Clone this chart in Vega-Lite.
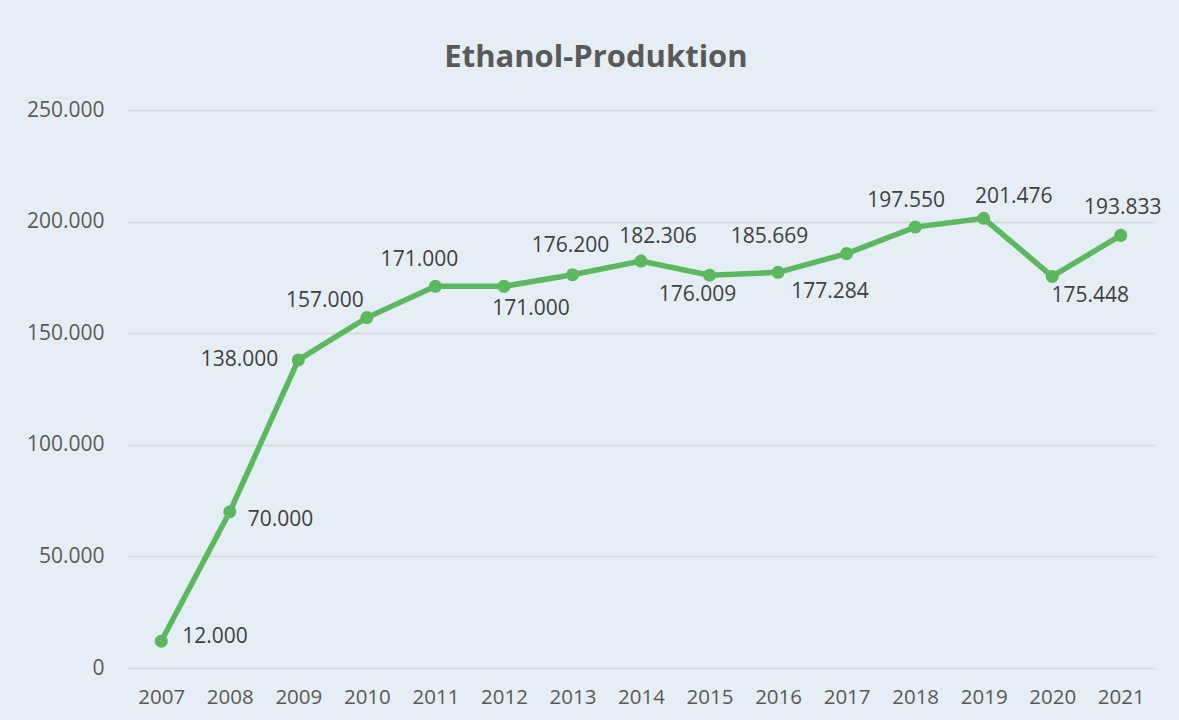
{
  "$schema": "https://vega.github.io/schema/vega-lite/v6.json",
  "width": 1028,
  "height": 558,
  "autosize": {"type": "none"},
  "padding": {"left": 127, "top": 110, "right": 24, "bottom": 52},
  "background": "#e5eef4",
  "config": {
    "locale": {"number": {"decimal": ",", "thousands": ".", "grouping": [3], "currency": ["", " €"]}},
    "view": {"stroke": null},
    "font": "Open Sans",
    "text": {"font": "Open Sans", "fontSize": 21, "color": "#404040", "align": "center", "baseline": "middle"}
  },
  "title": {
    "text": "Ethanol-Produktion",
    "fontSize": 31,
    "fontWeight": "bold",
    "color": "#595959",
    "font": "Open Sans",
    "anchor": "middle",
    "frame": "group",
    "dx": -45,
    "offset": 25
  },
  "data": {
    "values": [
      {"Jahr": "2007", "Wert": 12000},
      {"Jahr": "2008", "Wert": 70000},
      {"Jahr": "2009", "Wert": 138000},
      {"Jahr": "2010", "Wert": 157000},
      {"Jahr": "2011", "Wert": 171000},
      {"Jahr": "2012", "Wert": 171000},
      {"Jahr": "2013", "Wert": 176200},
      {"Jahr": "2014", "Wert": 182306},
      {"Jahr": "2015", "Wert": 176009},
      {"Jahr": "2016", "Wert": 177284},
      {"Jahr": "2017", "Wert": 185669},
      {"Jahr": "2018", "Wert": 197550},
      {"Jahr": "2019", "Wert": 201476},
      {"Jahr": "2020", "Wert": 175448},
      {"Jahr": "2021", "Wert": 193833}
    ]
  },
  "encoding": {
    "x": {
      "field": "Jahr", "type": "ordinal",
      "scale": {"paddingInner": 0, "paddingOuter": 0},
      "axis": {
        "title": null, "labelAngle": 0, "ticks": false,
        "domainColor": "#d9d9d9", "domainWidth": 1.5,
        "labelFontSize": 20.5, "labelColor": "#595959", "labelPadding": 19, "labelFont": "Open Sans"
      }
    },
    "y": {
      "field": "Wert", "type": "quantitative",
      "scale": {"domain": [0, 250000], "nice": false},
      "axis": {
        "title": null, "values": [0, 50000, 100000, 150000, 200000, 250000],
        "format": ",d", "ticks": false, "domain": false,
        "gridColor": "#d9d9d9", "gridWidth": 1.5,
        "labelFontSize": 21, "labelColor": "#595959", "labelPadding": 23, "labelFont": "Open Sans"
      }
    },
    "text": {"field": "Wert", "type": "quantitative", "format": ",d"}
  },
  "layer": [
    {"mark": {"type": "line", "color": "#5cb85f", "strokeWidth": 5.5}, "encoding": {"text": null}},
    {"mark": {"type": "point", "filled": true, "opacity": 1, "color": "#5cb85f", "size": 170}, "encoding": {"text": null}},
    {"transform": [{"filter": {"field": "Jahr", "equal": "2007"}}], "mark": {"type": "text", "align": "left", "dx": 21, "dy": -4}},
    {"transform": [{"filter": {"field": "Jahr", "equal": "2008"}}], "mark": {"type": "text", "align": "left", "dx": 18, "dy": 8}},
    {"transform": [{"filter": {"field": "Jahr", "equal": "2009"}}], "mark": {"type": "text", "align": "right", "dx": -20, "dy": 0}},
    {"transform": [{"filter": {"field": "Jahr", "equal": "2010"}}], "mark": {"type": "text", "dx": -42, "dy": -17}},
    {"transform": [{"filter": {"field": "Jahr", "equal": "2011"}}], "mark": {"type": "text", "dx": -16, "dy": -26}},
    {"transform": [{"filter": {"field": "Jahr", "equal": "2012"}}], "mark": {"type": "text", "dx": 27, "dy": 23}},
    {"transform": [{"filter": {"field": "Jahr", "equal": "2013"}}], "mark": {"type": "text", "dx": -2, "dy": -29}},
    {"transform": [{"filter": {"field": "Jahr", "equal": "2014"}}], "mark": {"type": "text", "dx": 17, "dy": -24}},
    {"transform": [{"filter": {"field": "Jahr", "equal": "2015"}}], "mark": {"type": "text", "dx": -12, "dy": 20}},
    {"transform": [{"filter": {"field": "Jahr", "equal": "2016"}}], "mark": {"type": "text", "dx": 52, "dy": 20}},
    {"transform": [{"filter": {"field": "Jahr", "equal": "2017"}}], "mark": {"type": "text", "dx": -77, "dy": -17}},
    {"transform": [{"filter": {"field": "Jahr", "equal": "2018"}}], "mark": {"type": "text", "dx": -9, "dy": -26}},
    {"transform": [{"filter": {"field": "Jahr", "equal": "2019"}}], "mark": {"type": "text", "dx": 30, "dy": -21}},
    {"transform": [{"filter": {"field": "Jahr", "equal": "2020"}}], "mark": {"type": "text", "dx": 38, "dy": 20}},
    {"transform": [{"filter": {"field": "Jahr", "equal": "2021"}}], "mark": {"type": "text", "dx": 2, "dy": -27}}
  ]
}
